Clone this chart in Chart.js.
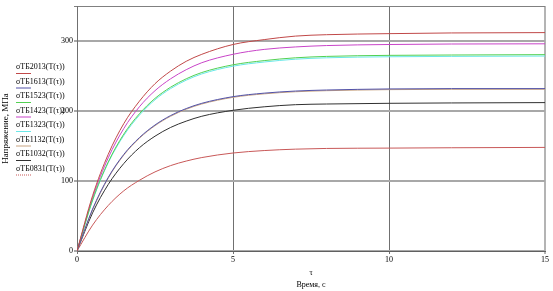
<!DOCTYPE html>
<html>
<head>
<meta charset="utf-8">
<script src="https://cdn.jsdelivr.net/npm/chart.js@4.4.0/dist/chart.umd.min.js"></script>
<style>
  html, body { margin: 0; padding: 0; background: #fff; }
  #wrap { width: 553px; height: 291px; }
</style>
</head>
<body>
<div id="wrap"><canvas id="lineChart"></canvas></div>
<script>
// time points, s
var times = [0, 0.5, 1, 1.5, 2, 2.5, 3, 3.5, 4, 5, 6, 7, 8, 10, 12, 15];

// stress, MPa
var s2013 = [0, 79, 138, 182, 214, 239, 257, 271, 281, 295, 302, 307, 309, 310.5, 311.5, 312];
var s1613 = [0, 60, 105, 138, 162, 180, 193.5, 203.5, 211, 220.5, 225.5, 228.5, 230, 231.5, 232, 232];
var s1523 = [0, 73, 127, 167, 196, 218, 234, 246, 255, 266, 272, 276, 278, 279.5, 280, 280.5];
var s1423 = [0, 76, 133, 175, 206, 229, 246, 259, 269, 281, 288, 291.5, 293.5, 295, 295.7, 296];
var s1323 = [0, 72, 126, 165, 194, 216, 232, 244, 253, 264, 270, 274, 276, 277.5, 278, 278.5];
var s1132 = [0, 59, 104, 137, 161, 179, 192.5, 202.5, 210, 219.5, 224.5, 227.5, 229, 230.5, 231, 231];
var s1032 = [0, 54.5, 95, 125, 147.5, 164, 176.5, 185.5, 192.5, 201, 206, 209, 210, 211, 211.5, 212];
var s0831 = [0, 37, 65, 86, 101, 113, 122, 128.5, 133.5, 140, 143.5, 145.5, 146.5, 147, 147.5, 148];

var names = ["σTБ2013(T(τ))", "σTБ1613(T(τ))", "σTБ1523(T(τ))", "σTБ1423(T(τ))",
             "σTБ1323(T(τ))", "σTБ1132(T(τ))", "σTБ1032(T(τ))", "σTБ0831(T(τ))"];
var series = [s2013, s1613, s1523, s1423, s1323, s1132, s1032, s0831];
var colors = ["#c04848", "#5252a8", "#52d052", "#c844c8", "#6ae8e8", "#c8a482", "#303030", "#c85858"];

var xTicks = [0, 5, 10, 15];
var yTicks = [0, 100, 200, 300, 350];

function pts(arr) {
  return arr.map(function (v, i) { return { x: times[i], y: v }; });
}

var datasets = series.map(function (arr, i) {
  return {
    label: names[i],
    data: pts(arr),
    borderColor: colors[i],
    backgroundColor: colors[i],
    borderWidth: 1,
    pointRadius: 0,
    fill: false,
    cubicInterpolationMode: 'monotone'
  };
});

// legend drawn at the left side, over the axis area, like the original
var sideLegend = {
  id: 'sideLegend',
  afterDraw: function (chart) {
    var c = chart.ctx;
    c.save();
    c.font = '8px "Liberation Serif"';
    c.textBaseline = 'middle';
    c.textAlign = 'left';
    chart.data.datasets.forEach(function (ds, i) {
      var y = 67 + i * 14.5;
      c.fillStyle = '#000';
      c.fillText(ds.label, 16, y);
      c.strokeStyle = ds.borderColor;
      c.lineWidth = 1;
      if (i === 7) c.setLineDash([1, 1]);
      c.beginPath();
      c.moveTo(16, y + 6.5);
      c.lineTo(31, y + 6.5);
      c.stroke();
      c.setLineDash([]);
    });
    c.restore();
  }
};

var ctx = document.getElementById("lineChart");
var lineChart = new Chart(ctx, {
  type: 'line',
  data: { datasets: datasets },
  options: {
    responsive: true,
    maintainAspectRatio: false,
    animation: false,
    layout: { padding: { left: 0, top: 6, right: 8, bottom: 0 } },
    plugins: {
      legend: { display: false },
      tooltip: { enabled: false }
    },
    scales: {
      x: {
        type: 'linear',
        min: 0,
        max: 15,
        afterBuildTicks: function (axis) { axis.ticks = xTicks.map(function (v) { return { value: v }; }); },
        afterFit: function (axis) { axis.height = 40; },
        border: { display: true, color: '#606060', width: 1 },
        grid: {
          color: function (c) { return c.tick && c.tick.value === 15 ? '#b4b4b4' : '#707070'; },
          lineWidth: function (c) { return c.tick && c.tick.value === 15 ? 2 : 1; },
          drawTicks: true,
          tickLength: 3
        },
        ticks: {
          color: '#000',
          font: { family: 'Liberation Serif', size: 8 },
          padding: 1,
          maxRotation: 0
        },
        title: {
          display: true,
          text: ['τ', 'Время, с'],
          color: '#000',
          font: { family: 'Liberation Serif', size: 8, lineHeight: 1.5 },
          padding: { top: 2, bottom: 0 }
        }
      },
      y: {
        min: 0,
        max: 350,
        afterBuildTicks: function (axis) { axis.ticks = yTicks.map(function (v) { return { value: v }; }); },
        afterFit: function (axis) { axis.width = 77; },
        border: { display: true, color: '#707070', width: 1 },
        grid: {
          color: function (c) { return c.tick && c.tick.value === 350 ? '#808080' : '#a8a8a8'; },
          lineWidth: function (c) { return c.tick && c.tick.value === 350 ? 1 : 2; },
          drawTicks: true,
          tickLength: 3
        },
        ticks: {
          color: '#000',
          font: { family: 'Liberation Serif', size: 8 },
          padding: 1,
          callback: function (v) { return v === 350 ? '' : v; }
        },
        title: {
          display: true,
          text: 'Напряжение, МПа',
          color: '#000',
          font: { family: 'Liberation Serif', size: 9 },
          padding: { top: 0, bottom: 0 }
        }
      }
    }
  },
  plugins: [sideLegend]
});
</script>
</body>
</html>
